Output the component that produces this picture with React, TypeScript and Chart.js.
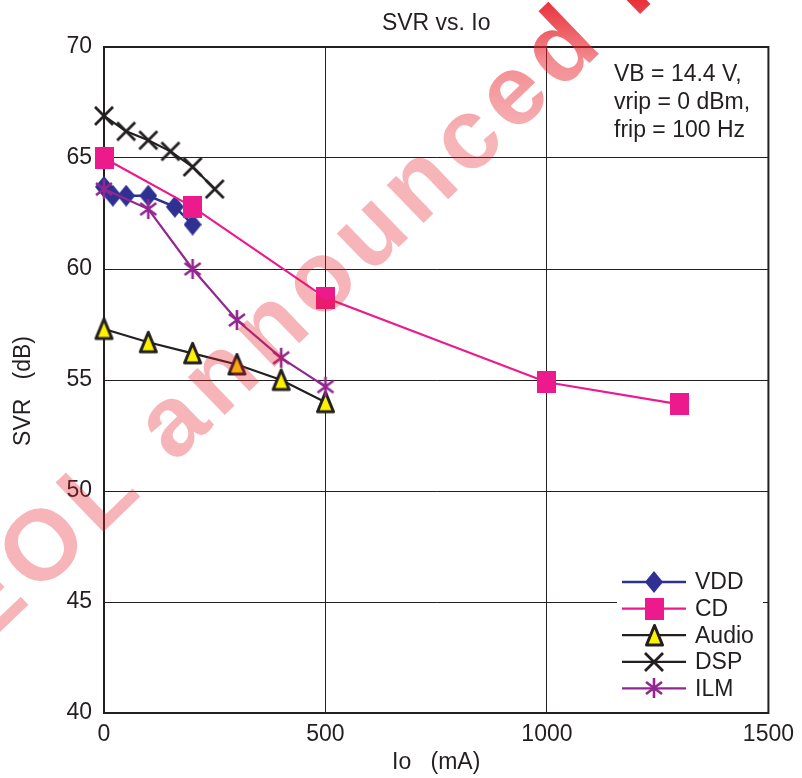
import React, { useEffect, useRef } from 'react';
import { Chart, registerables } from 'chart.js';

Chart.register(...registerables);

// ---- data ----
const xTicks = [0, 500, 1000, 1500];
const yTicks = [40, 45, 50, 55, 60, 65, 70];

const vddX = [0, 20, 50, 100, 160, 200];
const vddY = [63.7, 63.3, 63.3, 63.3, 62.8, 62.0];
const cdX = [0, 200, 500, 1000, 1300];
const cdY = [65.0, 62.8, 58.7, 54.9, 53.9];
const audioX = [0, 100, 200, 300, 400, 500];
const audioY = [57.3, 56.7, 56.2, 55.7, 55.0, 54.0];
const dspX = [0, 50, 100, 150, 200, 250];
const dspY = [66.9, 66.2, 65.8, 65.3, 64.6, 63.6];
const ilmX = [0, 100, 200, 300, 400, 500];
const ilmY = [63.6, 62.7, 60.0, 57.7, 56.0, 54.7];

const seriesNames = ['VDD', 'CD', 'Audio', 'DSP', 'ILM'];
const noteLines = ['VB = 14.4 V,', 'vrip = 0 dBm,', 'frip = 100 Hz'];
const titleText = 'SVR vs. Io';
const xTitle = 'Io   (mA)';
const yTitle = 'SVR   (dB)';
const watermarkText = 'EOL announced P';

const INK = '#231f20';
const FONT = "'Liberation Sans', Arial, Helvetica, sans-serif";

function mk(w: number, h: number, draw: (c: CanvasRenderingContext2D) => void) {
  const c = document.createElement('canvas');
  c.width = w;
  c.height = h;
  const ctx = c.getContext('2d') as CanvasRenderingContext2D;
  draw(ctx);
  return c;
}

function makeMarkers() {
  const diamond = mk(18, 22, (c) => {
    c.fillStyle = '#2e3192';
    c.beginPath();
    c.moveTo(9, 0);
    c.lineTo(18, 11);
    c.lineTo(9, 22);
    c.lineTo(0, 11);
    c.closePath();
    c.fill();
  });
  const square = mk(19, 22, (c) => {
    c.fillStyle = '#ec1a8c';
    c.fillRect(0, 0, 19, 22);
  });
  const triangle = mk(21, 25, (c) => {
    c.beginPath();
    c.moveTo(10.5, 2.5);
    c.lineTo(18.5, 22);
    c.lineTo(2.5, 22);
    c.closePath();
    c.fillStyle = '#fff200';
    c.fill();
    c.lineWidth = 3;
    c.lineJoin = 'round';
    c.strokeStyle = INK;
    c.stroke();
  });
  const cross = mk(22, 22, (c) => {
    c.strokeStyle = INK;
    c.lineWidth = 2.8;
    c.beginPath();
    c.moveTo(2, 2);
    c.lineTo(20, 20);
    c.moveTo(20, 2);
    c.lineTo(2, 20);
    c.stroke();
  });
  const aster = mk(20, 22, (c) => {
    c.strokeStyle = '#92278f';
    c.lineWidth = 2.6;
    c.beginPath();
    c.moveTo(10, 1);
    c.lineTo(10, 21);
    c.moveTo(2, 5);
    c.lineTo(18, 17);
    c.moveTo(18, 5);
    c.lineTo(2, 17);
    c.stroke();
  });
  return { diamond, square, triangle, cross, aster };
}

function pts(xs: number[], ys: number[]) {
  return xs.map((x, i) => ({ x, y: ys[i] }));
}

export default function App() {
  const ref = useRef<HTMLCanvasElement | null>(null);

  useEffect(() => {
    if (!ref.current) return;
    const m = makeMarkers();
    const styles = [
      { color: '#2e3192', width: 2.5, marker: m.diamond },
      { color: '#ec1a8c', width: 2.2, marker: m.square },
      { color: INK, width: 2.2, marker: m.triangle },
      { color: INK, width: 2.2, marker: m.cross },
      { color: '#92278f', width: 2.2, marker: m.aster },
    ];
    const datas = [pts(vddX, vddY), pts(cdX, cdY), pts(audioX, audioY), pts(dspX, dspY), pts(ilmX, ilmY)];
    const orders = [4, 1, 3, 2, 0];

    const extras = {
      id: 'extras',
      beforeDatasetsDraw(chart: any) {
        const { ctx, chartArea: a } = chart;
        ctx.save();
        ctx.strokeStyle = INK;
        ctx.lineWidth = 2;
        ctx.strokeRect(a.left, a.top, a.right - a.left, a.bottom - a.top);
        ctx.restore();
      },
      afterDraw(chart: any) {
        const { ctx } = chart;
        ctx.save();
        // y-axis title
        ctx.fillStyle = INK;
        ctx.font = `23px ${FONT}`;
        ctx.textAlign = 'center';
        ctx.textBaseline = 'middle';
        ctx.translate(24, 391);
        ctx.rotate(-Math.PI / 2);
        ctx.fillText(yTitle, 0, 0);
        ctx.restore();

        // notes
        ctx.save();
        ctx.fillStyle = INK;
        ctx.font = `23px ${FONT}`;
        ctx.textAlign = 'left';
        ctx.textBaseline = 'middle';
        noteLines.forEach((t, i) => ctx.fillText(t, 614, 75 + i * 28));
        ctx.restore();

        // legend
        ctx.save();
        ctx.fillStyle = '#ffffff';
        ctx.fillRect(617, 566, 146, 136);
        ctx.font = `23px ${FONT}`;
        ctx.textBaseline = 'middle';
        ctx.textAlign = 'left';
        seriesNames.forEach((name, i) => {
          const y = 582 + i * 26.6;
          const s = styles[i];
          ctx.strokeStyle = s.color;
          ctx.lineWidth = s.width;
          ctx.beginPath();
          ctx.moveTo(622, y);
          ctx.lineTo(686, y);
          ctx.stroke();
          ctx.drawImage(s.marker, Math.round(654 - s.marker.width / 2), Math.round(y - s.marker.height / 2));
          ctx.fillStyle = INK;
          ctx.fillText(name, 695, y + 1);
        });
        ctx.restore();

        // watermark
        const W = chart.width;
        const H = chart.height;
        const off = document.createElement('canvas');
        off.width = W;
        off.height = H;
        const o = off.getContext('2d') as CanvasRenderingContext2D;
        const size = 100;
        o.font = `bold ${size}px ${FONT}`;
        (o as any).letterSpacing = '8px';
        o.fillStyle = '#e61e28';
        o.save();
        o.translate(176, 426);
        o.rotate((-44 * Math.PI) / 180);
        const pre = o.measureText('EOL ').width;
        const aw = o.measureText('a').width;
        o.textBaseline = 'alphabetic';
        o.fillText(watermarkText, -(pre + aw / 2 - 4), 0.26 * size);
        o.restore();
        o.globalCompositeOperation = 'source-in';
        const g = o.createLinearGradient(0, 0, 0, H);
        g.addColorStop(0, 'rgba(230,30,40,0.92)');
        g.addColorStop(0.08, 'rgba(230,30,40,0.5)');
        g.addColorStop(0.18, 'rgba(230,30,40,0.33)');
        g.addColorStop(1, 'rgba(230,30,40,0.33)');
        o.fillStyle = g;
        o.fillRect(0, 0, W, H);
        ctx.drawImage(off, 0, 0);
      },
    };

    const chart = new Chart(ref.current, {
      type: 'line',
      data: {
        datasets: seriesNames.map((name, i) => ({
          label: name,
          data: datas[i],
          borderColor: styles[i].color,
          backgroundColor: styles[i].color,
          borderWidth: styles[i].width,
          pointStyle: styles[i].marker as any,
          pointRadius: 10,
          pointHoverRadius: 10,
          fill: false,
          tension: 0,
          clip: false as any,
          order: orders[i],
        })),
      },
      options: {
        animation: false,
        responsive: true,
        maintainAspectRatio: false,
        layout: { padding: { top: 0, right: 32, bottom: 0, left: 0 } },
        plugins: {
          legend: { display: false },
          tooltip: { enabled: false },
          title: {
            display: true,
            text: titleText,
            fullSize: false,
            color: INK,
            font: { family: FONT, size: 23, weight: 'normal' },
            padding: { top: 10, bottom: 9.4 },
          },
        },
        scales: {
          x: {
            type: 'linear',
            min: 0,
            max: 1500,
            afterBuildTicks: (s: any) => {
              s.ticks = xTicks.map((v) => ({ value: v }));
            },
            afterFit: (s: any) => {
              s.height = 65;
            },
            ticks: {
              padding: 8,
              color: INK,
              font: { family: FONT, size: 23 },
              maxRotation: 0,
              callback: (v: any) => String(v),
            },
            grid: { color: INK, lineWidth: 1, drawTicks: false },
            border: { display: false },
            title: {
              display: true,
              text: xTitle,
              color: INK,
              font: { family: FONT, size: 23 },
              padding: { top: 2, bottom: 2 },
            },
          },
          y: {
            type: 'linear',
            min: 40,
            max: 70,
            afterBuildTicks: (s: any) => {
              s.ticks = yTicks.map((v) => ({ value: v }));
            },
            afterFit: (s: any) => {
              s.width = 104;
            },
            ticks: { padding: 12, color: INK, font: { family: FONT, size: 23 }, callback: (v: any) => String(v) },
            grid: { color: INK, lineWidth: 1, drawTicks: false },
            border: { display: false },
          },
        },
      } as any,
      plugins: [extras],
    });
    return () => chart.destroy();
  }, []);

  return (
    <div style={{ position: 'fixed', left: 0, top: 0, width: 802, height: 778, background: '#fff' }}>
      <canvas ref={ref} />
    </div>
  );
}
